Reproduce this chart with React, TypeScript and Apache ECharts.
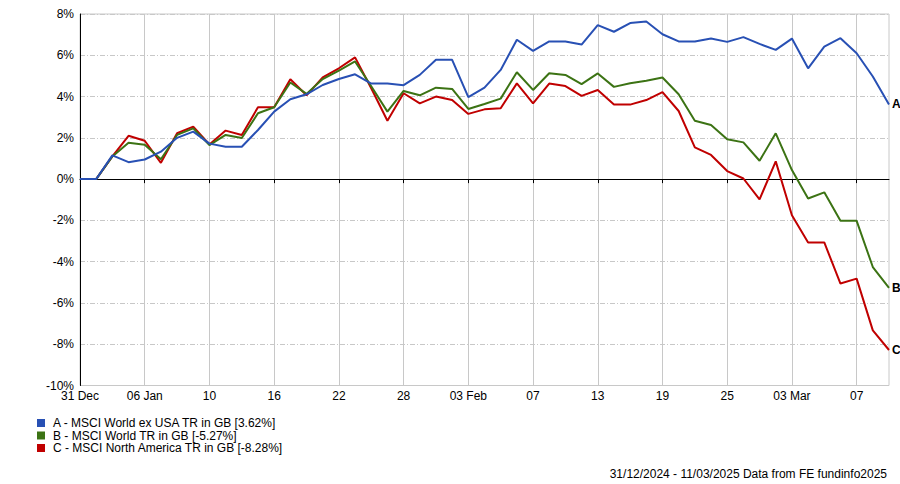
import React, { useEffect, useRef } from "react";
import * as echarts from "echarts";

const dates = [
  "31/12/2024", "01/01/2025", "02/01/2025", "03/01/2025", "06/01/2025", "07/01/2025", "08/01/2025", "09/01/2025",
  "10/01/2025", "13/01/2025", "14/01/2025", "15/01/2025", "16/01/2025", "17/01/2025", "20/01/2025", "21/01/2025",
  "22/01/2025", "23/01/2025", "24/01/2025", "27/01/2025", "28/01/2025", "29/01/2025", "30/01/2025", "31/01/2025",
  "03/02/2025", "04/02/2025", "05/02/2025", "06/02/2025", "07/02/2025", "10/02/2025", "11/02/2025", "12/02/2025",
  "13/02/2025", "14/02/2025", "17/02/2025", "18/02/2025", "19/02/2025", "20/02/2025", "21/02/2025", "24/02/2025",
  "25/02/2025", "26/02/2025", "27/02/2025", "28/02/2025", "03/03/2025", "04/03/2025", "05/03/2025", "06/03/2025",
  "07/03/2025", "10/03/2025", "11/03/2025",
];

const tickLabels = ["31 Dec", "06 Jan", "10", "16", "22", "28", "03 Feb", "07", "13", "19", "25", "03 Mar", "07"];

const seriesA = [
  0, 0, 1.15, 0.82, 0.95, 1.33, 2.0, 2.3, 1.72, 1.57, 1.57, 2.38, 3.27, 3.87, 4.11, 4.56, 4.85, 5.08, 4.63, 4.63,
  4.55, 5.05, 5.78, 5.78, 3.97, 4.43, 5.29, 6.75, 6.21, 6.67, 6.67, 6.52, 7.46, 7.14, 7.56, 7.64, 7.02, 6.67, 6.67,
  6.81, 6.65, 6.88, 6.55, 6.26, 6.81, 5.37, 6.42, 6.83, 6.1, 4.97, 3.62,
];

const seriesB = [
  0, 0, 1.1, 1.76, 1.67, 0.96, 2.14, 2.46, 1.65, 2.14, 1.99, 3.19, 3.48, 4.68, 4.13, 4.85, 5.26, 5.7, 4.5, 3.27,
  4.27, 4.06, 4.43, 4.37, 3.4, 3.64, 3.9, 5.18, 4.32, 5.13, 5.05, 4.6, 5.12, 4.47, 4.64, 4.77, 4.92, 4.11, 2.83,
  2.62, 1.93, 1.78, 0.89, 2.22, 0.44, -0.94, -0.64, -2.02, -2.02, -4.26, -5.27,
];

const seriesC = [
  0, 0, 1.1, 2.1, 1.86, 0.79, 2.22, 2.54, 1.68, 2.35, 2.14, 3.48, 3.48, 4.84, 4.06, 4.93, 5.37, 5.9, 4.4, 2.83,
  4.16, 3.67, 4.0, 3.83, 3.16, 3.38, 3.43, 4.64, 3.67, 4.63, 4.51, 4.03, 4.32, 3.61, 3.61, 3.83, 4.21, 3.3, 1.54,
  1.17, 0.39, 0.03, -0.98, 0.86, -1.75, -3.07, -3.07, -5.06, -4.82, -7.33, -8.28,
];

const seriesNames = [
  "A - MSCI World ex USA TR in GB [3.62%]",
  "B - MSCI World TR in GB [-5.27%]",
  "C - MSCI North America TR in GB [-8.28%]",
];
const endTags = ["A", "B", "C"];
const colors = ["#2850b4", "#3c7314", "#c00000"];

const FONT = "'Liberation Sans', Arial, sans-serif";

export default function App() {
  const ref = useRef<HTMLDivElement>(null);

  useEffect(() => {
    document.body.style.margin = "0";
    if (!ref.current) return;
    const chart = echarts.init(ref.current, undefined, { renderer: "svg" });
    const dataSets = [seriesA, seriesB, seriesC];
    const dashDot = [5, 2, 1, 2];

    chart.setOption({
      animation: false,
      textStyle: { fontFamily: FONT },
      grid: {
        left: 80,
        top: 14,
        right: 11,
        bottom: 98.5,
        show: true,
        borderColor: "#c8c8c8",
        borderWidth: 1,
      },
      legend: {
        orient: "vertical",
        left: 32,
        top: 412,
        itemWidth: 8,
        itemHeight: 8,
        itemGap: 0.5,
        icon: "rect",
        selectedMode: false,
        textStyle: { fontSize: 12, color: "#000", fontFamily: FONT, lineHeight: 12, padding: [0, 0, 0, 3] },
        data: seriesNames,
      },
      xAxis: {
        type: "category",
        data: dates,
        boundaryGap: false,
        axisLine: { show: true, lineStyle: { color: "#000", width: 1 } },
        axisTick: { show: true, interval: 3, length: 4, lineStyle: { color: "#000" } },
        axisLabel: {
          interval: 3,
          margin: 4,
          fontSize: 12,
          color: "#000",
          fontFamily: FONT,
          formatter: (_v: string, idx: number) => tickLabels[Math.round(idx / 4)] ?? "",
        },
        splitLine: { show: true, interval: 3, lineStyle: { color: "#c8c8c8", width: 1, type: "solid" } },
      },
      yAxis: {
        type: "value",
        min: -10,
        max: 8,
        interval: 2,
        axisLine: { show: true, lineStyle: { color: "#000", width: 1 } },
        axisTick: { show: false },
        axisLabel: { fontSize: 12, color: "#000", margin: 6, fontFamily: FONT, formatter: "{value}%" },
        splitLine: { show: true, lineStyle: { color: "#c8c8c8", width: 1, type: dashDot } },
      },
      graphic: [
        {
          type: "text",
          right: 13,
          top: 468,
          style: {
            text: "31/12/2024 - 11/03/2025 Data from FE fundinfo2025",
            fontSize: 12,
            fontFamily: FONT,
            fill: "#000",
          },
        },
      ],
      series: dataSets.map((d, i) => ({
        name: seriesNames[i],
        type: "line",
        data: d,
        showSymbol: false,
        symbol: "none",
        color: colors[i],
        lineStyle: { color: colors[i], width: 2 },
        z: 5 - i,
        endLabel: {
          show: true,
          formatter: endTags[i],
          color: "#000",
          fontWeight: "bold",
          fontSize: 12,
          fontFamily: FONT,
          distance: 3,
        },
        markLine:
          i === 0
            ? {
                silent: true,
                symbol: "none",
                label: { show: false },
                lineStyle: { color: "#000", width: 1, type: [4, 2, 1, 2] },
                data: [{ yAxis: 0 }],
                z: 1,
              }
            : undefined,
      })),
    });

    return () => chart.dispose();
  }, []);

  return <div ref={ref} style={{ width: 900, height: 484 }} />;
}
